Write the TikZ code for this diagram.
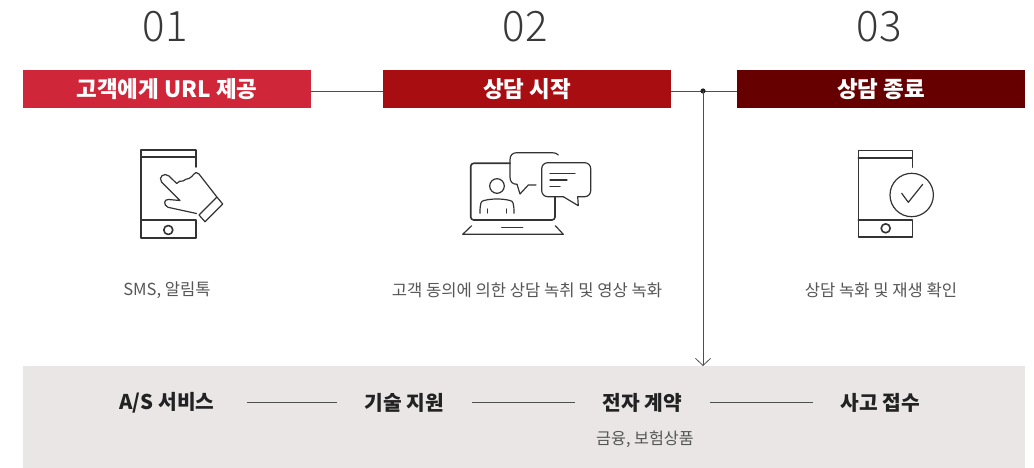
\documentclass[tikz,border=0pt]{standalone}
\usepackage{fontspec}
\setmainfont{Noto Sans CJK KR}
\newfontfamily\thinnum{Noto Sans CJK KR Light}
\usetikzlibrary{arrows.meta}
\definecolor{redA}{HTML}{CF2639}
\definecolor{redB}{HTML}{A80D12}
\definecolor{redC}{HTML}{660000}
\definecolor{panel}{HTML}{EAE6E5}
\definecolor{ink}{HTML}{222222}
\definecolor{icon}{HTML}{333333}
\definecolor{body}{HTML}{555555}
\tikzset{
  x=1pt,y=-1pt,
  numlabel/.style={font=\thinnum\fontsize{42}{42}\selectfont,text=ink!90,inner sep=0pt},
  barbox/.style={minimum width=288pt,minimum height=38pt,inner sep=0pt,text=white,font=\fontsize{22.5}{22}\selectfont\bfseries},
  caplabel/.style={font=\fontsize{16.6}{17}\selectfont,text=body,inner sep=0pt},
  itemlabel/.style={font=\fontsize{20.3}{20}\selectfont\bfseries,text=ink,inner sep=0pt},
  link/.style={draw=ink!80,line width=.8pt},
  ic/.style={draw=icon,line width=1.2pt,line join=round,line cap=round},
  icb/.style={ic,line width=1.6pt},
}
\begin{document}
\begin{tikzpicture}
\useasboundingbox (0,0) rectangle (1034,468);
\node[inner sep=0pt,minimum width=1002pt,minimum height=102pt,fill=panel] (panel) at (524,417) {};
\node[numlabel] (n1) at (165,27) {01};
\node[numlabel] (n2) at (525,27) {02};
\node[numlabel] (n3) at (879,27) {03};
\node[barbox,fill=redA] (b1) at (167,89) {\raisebox{-1pt}{고객에게 URL 제공}};
\node[barbox,fill=redB] (b2) at (527,89) {\raisebox{-1pt}{상담 시작}};
\node[barbox,fill=redC] (b3) at (881,89) {\raisebox{-1pt}{상담 종료}};
\node[caplabel] (c1) at (167,290.5) {SMS, 알림톡};
\node[caplabel] (c2) at (527,290.5) {고객 동의에 의한 상담 녹취 및 영상 녹화};
\node[caplabel] (c3) at (881,290.5) {상담 녹화 및 재생 확인};
\node[itemlabel] (i1) at (167,403) {A/S 서비스};
\node[itemlabel] (i2) at (404.5,403) {기술 지원};
\node[itemlabel] (i3) at (642.5,403) {전자 계약};
\node[itemlabel] (i4) at (880.5,403) {사고 접수};
\node[caplabel,font=\fontsize{16.2}{16}\selectfont] (i3s) at (645,439) {금융, 보험상품};
% connectors
\coordinate (dot) at (703,91);
\coordinate (arr) at (703,366);
\coordinate (b1e) at (311,91);\coordinate (b2w) at (383,91);
\coordinate (b2e) at (671,91);\coordinate (b3w) at (737,91);
\draw[link] (b1e) -- (b2w);
\draw[link] (b2e) -- (b3w);
\fill[ink] (dot) circle (2.6pt);
\draw[link,-{Straight Barb[length=7pt,width=15pt,line width=.8pt]}] (dot) -- (arr);
\coordinate (l1a) at (247,402);\coordinate (l1b) at (337,402);
\coordinate (l2a) at (472,402);\coordinate (l2b) at (575,402);
\coordinate (l3a) at (710,402);\coordinate (l3b) at (813,402);
\draw[link] (l1a) -- (l1b);
\draw[link] (l2a) -- (l2b);
\draw[link] (l3a) -- (l3b);
% icon 1
\draw[icb] (196,167) -- (196,150) -- (141,150) -- (141,237.7) -- (196,237.7) -- (196,220) -- (141,220);
\draw[icb] (141,157.3) -- (196,157.3);
\draw[icb] (168.3,230) circle (4.5pt);
\draw[ic] (180,200.5) -- (161.5,182) .. controls (158,177) and (164,172) .. (169,176)
  -- (176.7,183.5) .. controls (178,181) and (181,181) .. (183,181)
  .. controls (185,179) and (187,179) .. (189,178.5)
  .. controls (191,177) and (193,176) .. (193.5,174.5)
  .. controls (195,172) and (197,172) .. (199,174) -- (216.5,196.5)
  -- (222.7,204) -- (205,221.7) -- (199,215) -- (216.5,197.5)
  (196.5,213.5) -- (168,207.3) .. controls (163,205) and (164,199) .. (168.5,199.5) -- (180,200.5);
% icon 2
\draw[icb,rounded corners=3pt] (510,163.3) -- (470.7,163.3) -- (470.7,220) -- (555,220) -- (555,197);
\draw[ic] (558.3,155) .. controls (557,153.4) and (555,152.7) .. (552,152.7) -- (517,152.7)
  .. controls (512.5,152.7) and (510,155.2) .. (510,159.7) -- (510,177.3)
  .. controls (510,181.8) and (512.5,184.3) .. (517,184.3) -- (517,184.3);
\draw[ic] (517,184.3) -- (520,194) -- (528.3,185) -- (536,185);
\draw[ic,rounded corners=6pt] (563.3,196.7) -- (541.7,196.7) -- (541.7,162.7) -- (590.7,162.7) -- (590.7,196.7) -- (577.7,196.7);
\draw[ic] (563.3,196.7) -- (578.3,205.7) -- (577.7,196.7);
\draw[ic] (550,173.3) -- (575,173.3) (550,180) -- (567,180) (550,186.7) -- (560,186.7);
\draw[ic] (497,186) circle (7.3pt);
\draw[ic] (480,213.3) .. controls (480,203) and (481,201) .. (484,200.5) .. controls (492,198.5) and (502,198.5) .. (510,200.5) .. controls (513,201) and (514,203) .. (514,213.3);
\draw[ic] (487.3,209) -- (487.3,213) (506.7,209) -- (506.7,213);
\draw[ic] (471.7,225.7) -- (462.7,234.3) -- (563.3,234.3) -- (555.3,225.7);
\draw[ic] (501.7,227.3) -- (522.7,227.3);
% icon 3
\draw[icb] (912.3,167.3) -- (912.3,150.7) -- (858.3,150.7) -- (858.3,236.7) -- (912.3,236.7) -- (912.3,220) -- (858.3,220);
\draw[icb] (858.3,158.3) -- (912.3,158.3);
\draw[icb] (885.7,228.3) circle (4.5pt);
\draw[ic] (911.7,195) circle (21.7pt);
\draw[ic] (901.7,193.3) -- (908.3,202.3) -- (922.7,184.3);
\end{tikzpicture}
\end{document}
